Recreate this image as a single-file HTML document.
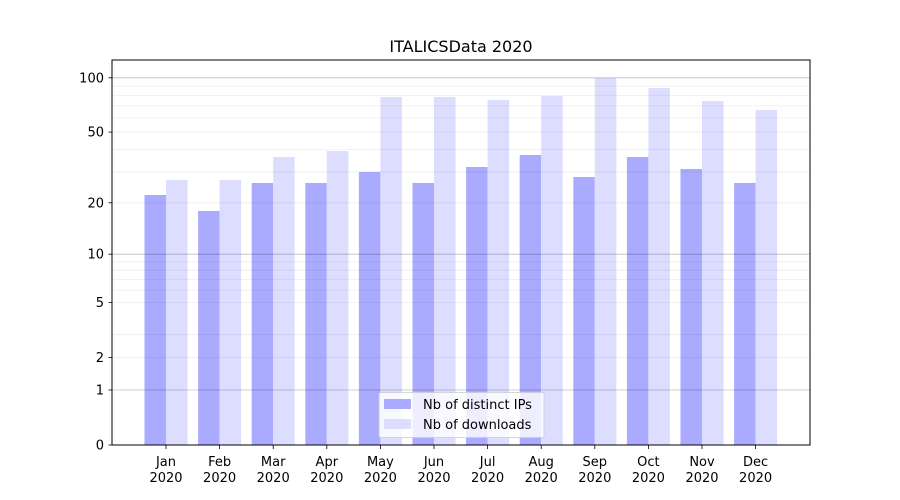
<!DOCTYPE html>
<html><head><meta charset="utf-8"><style>body{margin:0;background:#fff}svg{display:block;font-family:"DejaVu Sans","Liberation Sans",sans-serif}</style></head>
<body>
<svg width="900" height="500" xmlns="http://www.w3.org/2000/svg">
<rect width="900" height="500" fill="#fff"/>
<g fill="#aaaaff">
<rect x="144.5" y="195" width="21.5" height="250"/>
<rect x="198.1" y="211" width="21.5" height="234"/>
<rect x="251.7" y="183" width="21.5" height="262"/>
<rect x="305.3" y="183" width="21.5" height="262"/>
<rect x="358.9" y="172" width="21.5" height="273"/>
<rect x="412.5" y="183" width="21.5" height="262"/>
<rect x="466.1" y="167" width="21.5" height="278"/>
<rect x="519.7" y="155" width="21.5" height="290"/>
<rect x="573.3" y="177" width="21.5" height="268"/>
<rect x="626.9" y="157" width="21.5" height="288"/>
<rect x="680.5" y="169" width="21.5" height="276"/>
<rect x="734.1" y="183" width="21.5" height="262"/>
</g>
<g fill="#ddddff">
<rect x="166" y="180" width="21.5" height="265"/>
<rect x="219.6" y="180" width="21.5" height="265"/>
<rect x="273.2" y="157" width="21.5" height="288"/>
<rect x="326.8" y="151" width="21.5" height="294"/>
<rect x="380.4" y="97" width="21.5" height="348"/>
<rect x="434" y="97" width="21.5" height="348"/>
<rect x="487.6" y="100" width="21.5" height="345"/>
<rect x="541.2" y="96" width="21.5" height="349"/>
<rect x="594.8" y="78" width="21.5" height="367"/>
<rect x="648.4" y="88" width="21.5" height="357"/>
<rect x="702" y="101" width="21.5" height="344"/>
<rect x="755.6" y="110" width="21.5" height="335"/>
</g>
<g stroke="#000" stroke-opacity="0.07" stroke-width="0.8">
<line x1="112" x2="810" y1="357.6" y2="357.6"/><line x1="112" x2="810" y1="334.7" y2="334.7"/>
<line x1="112" x2="810" y1="302.4" y2="302.4"/><line x1="112" x2="810" y1="290.2" y2="290.2"/>
<line x1="112" x2="810" y1="279.6" y2="279.6"/><line x1="112" x2="810" y1="270.2" y2="270.2"/>
<line x1="112" x2="810" y1="261.8" y2="261.8"/><line x1="112" x2="810" y1="202.8" y2="202.8"/>
<line x1="112" x2="810" y1="171.8" y2="171.8"/><line x1="112" x2="810" y1="149.5" y2="149.5"/>
<line x1="112" x2="810" y1="132.1" y2="132.1"/><line x1="112" x2="810" y1="117.9" y2="117.9"/>
<line x1="112" x2="810" y1="105.9" y2="105.9"/><line x1="112" x2="810" y1="95.4" y2="95.4"/>
<line x1="112" x2="810" y1="86.1" y2="86.1"/>
</g>
<g stroke="#000" stroke-opacity="0.25" stroke-width="0.8">
<line x1="112" x2="810" y1="390" y2="390"/><line x1="112" x2="810" y1="254.2" y2="254.2"/><line x1="112" x2="810" y1="77.8" y2="77.8"/>
</g>
<rect x="112" y="60" width="698" height="385" fill="none" stroke="#000" stroke-width="1"/>
<g stroke="#000" stroke-width="0.8">
<line x1="108.5" x2="112" y1="445" y2="445"/><line x1="108.5" x2="112" y1="390" y2="390"/>
<line x1="108.5" x2="112" y1="357.6" y2="357.6"/><line x1="108.5" x2="112" y1="302.4" y2="302.4"/>
<line x1="108.5" x2="112" y1="254.2" y2="254.2"/><line x1="108.5" x2="112" y1="202.8" y2="202.8"/>
<line x1="108.5" x2="112" y1="132.1" y2="132.1"/><line x1="108.5" x2="112" y1="77.8" y2="77.8"/>
</g>
<g font-size="13" text-anchor="end" fill="#000">
<text x="104" y="449.5">0</text><text x="104" y="394.5">1</text><text x="104" y="362">2</text>
<text x="104" y="307">5</text><text x="104" y="258.7">10</text><text x="104" y="207.3">20</text>
<text x="104" y="136.6">50</text><text x="104" y="82.3">100</text>
</g>
<g stroke="#000" stroke-width="0.8">
<line x1="166" x2="166" y1="445" y2="449"/><line x1="219.6" x2="219.6" y1="445" y2="449"/>
<line x1="273.2" x2="273.2" y1="445" y2="449"/><line x1="326.8" x2="326.8" y1="445" y2="449"/>
<line x1="380.4" x2="380.4" y1="445" y2="449"/><line x1="434" x2="434" y1="445" y2="449"/>
<line x1="487.6" x2="487.6" y1="445" y2="449"/><line x1="541.2" x2="541.2" y1="445" y2="449"/>
<line x1="594.8" x2="594.8" y1="445" y2="449"/><line x1="648.4" x2="648.4" y1="445" y2="449"/>
<line x1="702" x2="702" y1="445" y2="449"/><line x1="755.6" x2="755.6" y1="445" y2="449"/>
</g>
<g font-size="13" text-anchor="middle" fill="#000">
<text x="166" y="466">Jan</text><text x="166" y="482">2020</text>
<text x="219.6" y="466">Feb</text><text x="219.6" y="482">2020</text>
<text x="273.2" y="466">Mar</text><text x="273.2" y="482">2020</text>
<text x="326.8" y="466">Apr</text><text x="326.8" y="482">2020</text>
<text x="380.4" y="466">May</text><text x="380.4" y="482">2020</text>
<text x="434" y="466">Jun</text><text x="434" y="482">2020</text>
<text x="487.6" y="466">Jul</text><text x="487.6" y="482">2020</text>
<text x="541.2" y="466">Aug</text><text x="541.2" y="482">2020</text>
<text x="594.8" y="466">Sep</text><text x="594.8" y="482">2020</text>
<text x="648.4" y="466">Oct</text><text x="648.4" y="482">2020</text>
<text x="702" y="466">Nov</text><text x="702" y="482">2020</text>
<text x="755.6" y="466">Dec</text><text x="755.6" y="482">2020</text>
</g>
<text x="461" y="52" font-size="16" text-anchor="middle">ITALICSData 2020</text>
<rect x="379" y="392.5" width="165" height="45" rx="2" fill="#fff" fill-opacity="0.8" stroke="#ccc" stroke-width="0.8"/>
<rect x="384" y="399" width="27" height="10" fill="#aaaaff"/>
<rect x="384" y="419" width="27" height="10" fill="#ddddff"/>
<text x="423" y="409" font-size="13">Nb of distinct IPs</text>
<text x="423" y="429" font-size="13">Nb of downloads</text>
</svg>
</body></html>
